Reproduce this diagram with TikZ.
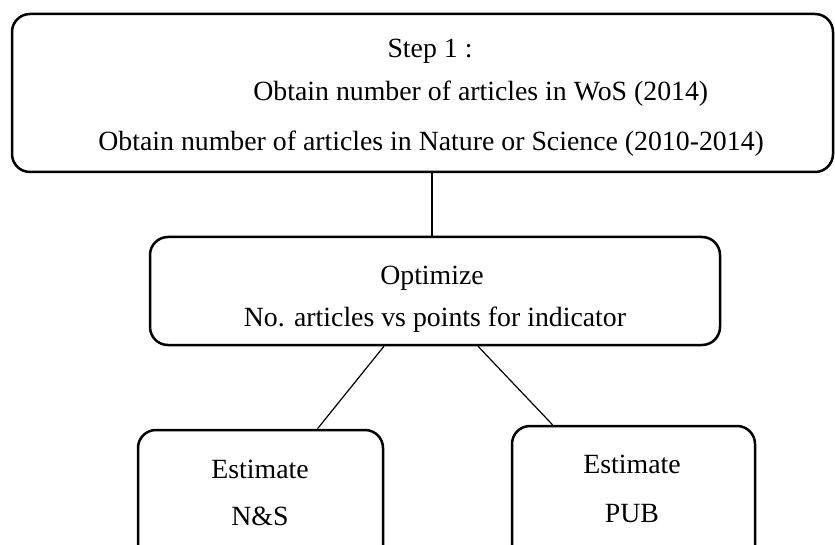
\documentclass[tikz,border=0pt]{standalone}
\usepackage{fontspec}
\setmainfont{Liberation Serif}
\usetikzlibrary{calc}

\tikzset{
  stagebox/.style={draw, line width=1.25pt, rounded corners=9pt, inner sep=0pt},
  stagetext/.style={font=\fontsize{13.9}{16}\selectfont, inner sep=0pt, anchor=base},
  link/.style={line width=0.6pt}
}

\begin{document}
\begin{tikzpicture}[x=0.5pt, y=-0.5pt]
  \useasboundingbox (0,0) rectangle (835,545);
  \clip (0,0) rectangle (835,545);

  % Step 1 box
  \node[stagebox, minimum width=410.5pt, minimum height=79pt] (step) at (422.5,93) {};
  \node[stagetext] (steptitle) at (430,58) {Step 1 :};
  \node[stagetext, anchor=base west] (wos) at (253,101) {Obtain number of articles in WoS (2014)};
  \node[stagetext, anchor=base west] (natsci) at (98,151) {Obtain number of articles in Nature or Science (2010-2014)};

  % Optimize box
  \node[stagebox, minimum width=285pt, minimum height=54pt] (optim) at (435,291) {};
  \node[stagetext] (optimtitle) at (432,285) {Optimize};
  \node[stagetext] (optimsub) at (435,327) {No. articles vs points for indicator};

  % Estimate boxes (cut off at the bottom)
  \node[stagebox, minimum width=122.5pt, minimum height=70pt] (ns) at (260.5,500) {};
  \node[stagetext] (nsest) at (260,478) {Estimate};
  \node[stagetext] (nsname) at (260,525) {N\&S};

  \node[stagebox, minimum width=121.5pt, minimum height=70pt] (pub) at (633.5,496) {};
  \node[stagetext] (pubest) at (632,473) {Estimate};
  \node[stagetext] (pubname) at (632,522) {PUB};

  % Connectors
  \coordinate (topjoin) at ($(optim.north)+(-3,0)$);
  \draw[link] (topjoin) -- (topjoin |- step.south);
  \draw[link] ($(optim.south)+(-51,0)$) -- ($(ns.north)+(57,0)$);
  \draw[link] ($(optim.south)+(43,0)$) -- ($(pub.north)+(-81,0)$);
\end{tikzpicture}
\end{document}
